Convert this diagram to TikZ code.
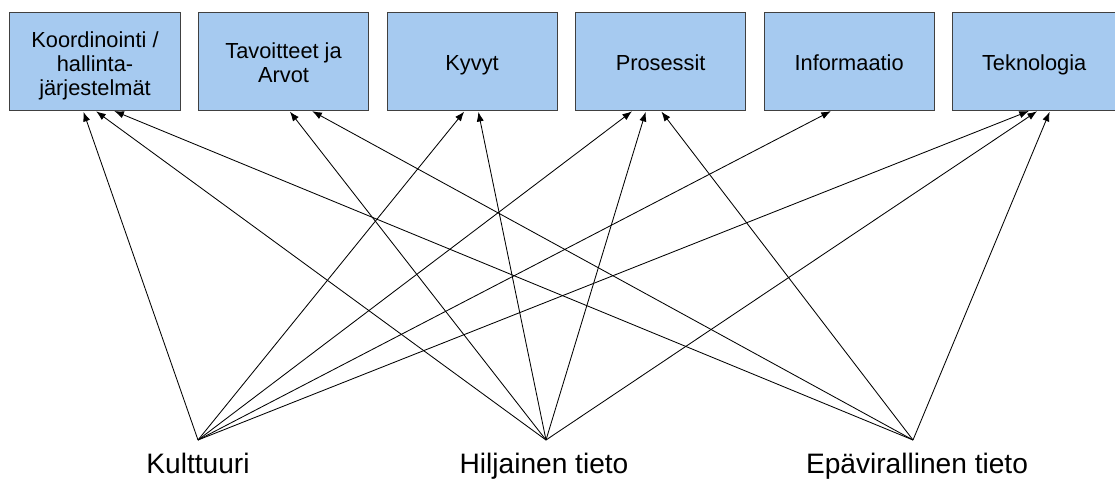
\documentclass[tikz,border=0pt]{standalone}
\usepackage{fontspec}
\setmainfont{Liberation Sans}
\usepackage{xcolor}
\usepackage{tikz}
\usetikzlibrary{arrows.meta,positioning}
\definecolor{laatikkosininen}{RGB}{166,202,240}
\tikzset{
    laatikko/.style={
        rectangle,
        draw=black!75,
        line width=0.7pt,
        fill=laatikkosininen,
        align=center,
        minimum width=4.25cm,
        minimum height=2.425cm,
        inner sep=2pt,
        text height=12.5pt,
        text depth=0pt,
        font=\fontsize{15.5}{17}\selectfont
    },
    lahde/.style={inner sep=0pt, font=\fontsize{20}{24}\selectfont},
    nuoli/.style={-{Latex[length=2.4mm,width=1.8mm]}, line width=0.6pt, shorten >=1pt}
}

\begin{document}
\begin{tikzpicture}[x=0.025cm, y=-0.025cm, node distance=0.4375cm]
        \useasboundingbox (0,0) rectangle (1115,479);

        \node[laatikko, text height=47.7pt] (koordinointi) at (95,61.5)
            {Koordinointi /\\hallinta-\\järjestelmät};
        \node[laatikko, right=of koordinointi, text height=29.5pt] (tavoitteet)
            {Tavoitteet ja\\Arvot};
        \node[laatikko, right=of tavoitteet] (kyvyt) {Kyvyt};
        \node[laatikko, right=of kyvyt] (prosessit) {Prosessit};
        \node[laatikko, right=of prosessit] (informaatio) {Informaatio};
        \node[laatikko, right=of informaatio, minimum width=4.075cm] (teknologia) {Teknologia};

        \coordinate (kulttuuriP) at (198,440);
        \coordinate (hiljainenP) at (546,440);
        \coordinate (epavirallinenP) at (913,440);
        \node[lahde, below=0.33cm of kulttuuriP] (kulttuuri) {Kulttuuri};
        \node[lahde, below=0.33cm of hiljainenP, xshift=-0.05cm] (hiljainen) {Hiljainen tieto};
        \node[lahde, below=0.33cm of epavirallinenP, xshift=0.1cm] (epavirallinen) {Epävirallinen tieto};

        \draw[nuoli] (kulttuuriP) -- ([xshift=-0.3cm]koordinointi.south);
        \draw[nuoli] (kulttuuriP) -- ([xshift=-0.175cm]kyvyt.south);
        \draw[nuoli] (kulttuuriP) -- ([xshift=-0.6875cm]prosessit.south);
        \draw[nuoli] (kulttuuriP) -- ([xshift=-0.425cm]informaatio.south);
        \draw[nuoli] (kulttuuriP) -- ([xshift=-0.1cm]teknologia.south);

        \draw[nuoli] (hiljainenP) -- (koordinointi.south);
        \draw[nuoli] (hiljainenP) -- ([xshift=0.1375cm]tavoitteet.south);
        \draw[nuoli] (hiljainenP) -- ([xshift=0.15cm]kyvyt.south);
        \draw[nuoli] (hiljainenP) -- ([xshift=-0.3625cm]prosessit.south);
        \draw[nuoli] (hiljainenP) -- ([xshift=0.1cm]teknologia.south);

        \draw[nuoli] (epavirallinenP) -- ([xshift=0.45cm]koordinointi.south);
        \draw[nuoli] (epavirallinenP) -- ([xshift=0.6875cm]tavoitteet.south);
        \draw[nuoli] (epavirallinenP) -- (prosessit.south);
        \draw[nuoli] (epavirallinenP) -- ([xshift=0.4cm]teknologia.south);
    \end{tikzpicture}
\end{document}
